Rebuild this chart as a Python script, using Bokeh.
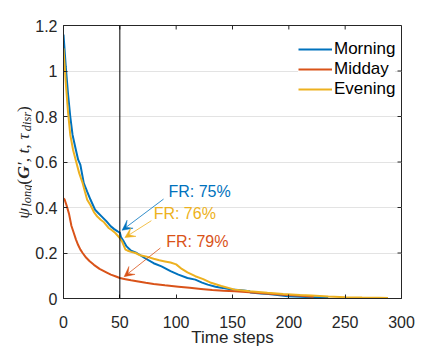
import math
from bokeh.plotting import figure
from bokeh.layouts import row
from bokeh.models import FixedTicker, Span, Arrow, VeeHead, Label
from bokeh.core.properties import value
from bokeh.embed import file_html
from bokeh.resources import INLINE

# ---------------- data ----------------
time_morning = [0, 2, 4, 6, 8, 11, 13, 15, 18, 21, 24, 28, 31, 34, 38, 42, 45, 48, 50, 51, 53,
                56, 60, 65, 72, 80, 87, 95, 102, 110, 117, 123, 128, 135, 140, 150, 160, 165,
                166, 175, 182, 190, 199, 210, 220, 230, 235]
psi_morning = [1.16, 1.02, 0.90, 0.80, 0.72, 0.653, 0.61, 0.587, 0.507, 0.47, 0.434, 0.39, 0.375,
               0.36, 0.34, 0.317, 0.305, 0.295, 0.29, 0.27, 0.255, 0.229, 0.21, 0.20, 0.178, 0.155,
               0.141, 0.12, 0.105, 0.09, 0.083, 0.07, 0.061, 0.052, 0.047, 0.040, 0.035, 0.032,
               0.026, 0.022, 0.020, 0.015, 0.010, 0.008, 0.006, 0.004, 0.003]

time_midday = [0, 1, 3, 5, 7, 9, 11, 13, 15, 17, 20, 23, 27, 32, 38, 42, 46, 50, 55, 60, 65, 73,
               80, 90, 102, 112, 122, 132, 142, 152, 165, 180, 195, 211, 222]
psi_midday = [0.44, 0.435, 0.405, 0.37, 0.32, 0.29, 0.26, 0.235, 0.215, 0.20, 0.18, 0.165, 0.148,
              0.13, 0.115, 0.105, 0.098, 0.09, 0.085, 0.08, 0.076, 0.069, 0.064, 0.058, 0.052,
              0.047, 0.042, 0.037, 0.034, 0.032, 0.027, 0.022, 0.017, 0.012, 0.008]

time_evening = [0, 2, 4, 6, 8.5, 12, 14, 17, 19, 21, 24, 27, 30, 33, 36, 40, 43, 46, 50, 52, 55,
                57, 60, 64, 68, 73, 80, 85, 90, 95, 100, 105, 110, 117, 124, 131, 140, 152, 165,
                181, 195, 210, 220, 235, 250, 265, 280, 288]
psi_evening = [1.10, 0.95, 0.82, 0.72, 0.653, 0.587, 0.55, 0.507, 0.47, 0.434, 0.41, 0.38, 0.36,
               0.346, 0.335, 0.31, 0.30, 0.288, 0.265, 0.25, 0.215, 0.21, 0.205, 0.20, 0.19,
               0.185, 0.175, 0.168, 0.163, 0.158, 0.15, 0.13, 0.115, 0.098, 0.085, 0.069, 0.055,
               0.039, 0.032, 0.025, 0.020, 0.015, 0.013, 0.009, 0.006, 0.004, 0.003, 0.002]

series_names = ["Morning", "Midday", "Evening"]
series_colors = ["#0072BD", "#D95319", "#EDB120"]
series_x = [time_morning, time_midday, time_evening]
series_y = [psi_morning, psi_midday, psi_evening]

x_ticks = [0, 50, 100, 150, 200, 250, 300]
y_ticks = [0, 0.2, 0.4, 0.6, 0.8, 1.0, 1.2]
y_tick_labels = ["0", "0.2", "0.4", "0.6", "0.8", "1", "1.2"]
x_title = "Time steps"

cut_step = 50
fr_texts = ["FR: 75%", "FR: 76%", "FR: 79%"]
fr_colors = ["#0072BD", "#EDB120", "#D95319"]
fr_text_x = [93.2, 80.0, 91.2]
fr_text_y = [0.470, 0.375, 0.251]
arrow_x0 = [88.8, 78.0, 86.0]
arrow_y0 = [0.437, 0.342, 0.222]
arrow_x1 = [52.0, 54.5, 53.8]
arrow_y1 = [0.300, 0.268, 0.096]

AX = "#262626"
FONT = "Liberation Sans"
X_MAX, Y_MAX = 300, 1.2
FRAME_W, FRAME_H = 340, 274
TOP_B, BOTTOM_B = 25, 50
TICK_PX = 4

# ---------------- main plot ----------------
p = figure(width=411, height=349,
           min_border_left=29, min_border_right=42, min_border_top=TOP_B, min_border_bottom=BOTTOM_B,
           x_range=(0, X_MAX), y_range=(0, Y_MAX),
           output_backend="svg", toolbar_location=None)
p.outline_line_color = AX
p.outline_line_width = 1
p.background_fill_color = "white"
p.border_fill_color = "white"

p.xgrid.grid_line_color = None
p.ygrid.ticker = FixedTicker(ticks=y_ticks)
p.ygrid.grid_line_color = "#e3e3e3"
p.ygrid.grid_line_width = 1

for ax in (p.xaxis[0], p.yaxis[0]):
    ax.axis_line_color = AX
    ax.major_tick_line_color = AX
    ax.major_tick_in = TICK_PX
    ax.major_tick_out = 0
    ax.minor_tick_line_color = None
    ax.major_label_text_font = FONT
    ax.major_label_text_color = AX
    ax.major_label_text_font_size = "16px"

xa = p.xaxis[0]
ya = p.yaxis[0]
xa.ticker = FixedTicker(ticks=x_ticks)
ya.ticker = FixedTicker(ticks=y_ticks)
ya.major_label_overrides = {t: l for t, l in zip(y_ticks, y_tick_labels)}
xa.major_label_standoff = 17
ya.major_label_standoff = 6
xa.axis_label = x_title
xa.axis_label_text_font = FONT
xa.axis_label_text_font_size = "17px"
xa.axis_label_text_font_style = "normal"
xa.axis_label_text_color = AX
xa.axis_label_standoff = -3

# inward ticks on the top and right edges of the box
tick_dy = TICK_PX * Y_MAX / FRAME_H
tick_dx = TICK_PX * X_MAX / FRAME_W
p.segment(x0=x_ticks, y0=[Y_MAX] * len(x_ticks), x1=x_ticks, y1=[Y_MAX - tick_dy] * len(x_ticks),
          line_color=AX, line_width=1)
p.segment(x0=[X_MAX] * len(y_ticks), y0=y_ticks, x1=[X_MAX - tick_dx] * len(y_ticks), y1=y_ticks,
          line_color=AX, line_width=1)

p.add_layout(Span(location=cut_step, dimension="height", line_color="black", line_width=1))

for name, c, xs, ys in zip(series_names, series_colors, series_x, series_y):
    p.line(xs, ys, line_color=c, line_width=2, legend_label=name)

for t, c, tx, ty, x0, y0, x1, y1 in zip(fr_texts, fr_colors, fr_text_x, fr_text_y,
                                         arrow_x0, arrow_y0, arrow_x1, arrow_y1):
    p.add_layout(Arrow(end=VeeHead(size=10, fill_color=c, line_color=c, line_width=0.5),
                       x_start=x0, y_start=y0, x_end=x1, y_end=y1,
                       line_color=c, line_width=0.8))
    p.add_layout(Label(x=tx, y=ty, text=t, text_color=c, text_font=FONT,
                       text_font_size="16px", text_align="left", text_baseline="alphabetic"))

leg = p.legend[0]
leg.location = (235, 199)
leg.padding = 8
leg.margin = 0
leg.spacing = 0
leg.glyph_width = 34
leg.glyph_height = 20
leg.label_height = 20
leg.label_standoff = 2
leg.label_text_font = FONT
leg.label_text_font_size = "17px"
leg.label_text_color = "black"
leg.border_line_color = None
leg.background_fill_color = "white"
leg.background_fill_alpha = 1

# ---------------- y-axis title strip (same vertical frame as the plot) ----------------
LW = 32
lab = figure(width=LW, height=349, x_range=(0, LW), y_range=(0, FRAME_H),
             min_border_left=0, min_border_right=0,
             min_border_top=TOP_B, min_border_bottom=BOTTOM_B,
             x_axis_location=None, y_axis_location=None,
             output_backend="svg", toolbar_location=None)
lab.outline_line_color = None
lab.xgrid.grid_line_color = None
lab.ygrid.grid_line_color = None
lab.background_fill_color = "white"
lab.border_fill_color = "white"

ylab_parts = [("ψ", "17.6px", "italic", 0, 12.0),
              ("long", "12.5px", "italic", 1, 22.2),
              ("(", "17.6px", "normal", 0, 5.9),
              ("G", "17.6px", "bold italic", 0, 12.7),
              ("′, t, τ", "17.6px", "italic", 0, 35.0),
              ("disr", "12.5px", "italic", 1, 19.5),
              (")", "17.6px", "normal", 0, 5.9)]
ycur = 80.0  # start of the title, measured up from the frame bottom
for txt, fs, style, sub, adv in ylab_parts:
    lab.text(x=[22.0 + 4.5 * sub], y=[ycur], text=[txt], angle=math.pi / 2,
             text_font=value("Liberation Serif"), text_font_size=value(fs),
             text_font_style=value(style), text_color=AX,
             text_align=value("left"), text_baseline=value("alphabetic"))
    ycur += adv

layout = row(lab, p)
open("out.html", "w").write(file_html(layout, INLINE))
